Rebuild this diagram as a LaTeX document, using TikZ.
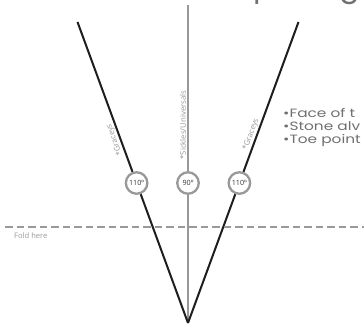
\documentclass[tikz,border=0pt]{standalone}
\usepackage{fontspec}
\setmainfont{Open Sans}
\newfontfamily\gothic[FakeStretch=1.28]{Poppins}
\newfontfamily\titlefont{Poppins}
\usetikzlibrary{calc}
\definecolor{guidegray}{HTML}{999999}
\definecolor{labelgray}{HTML}{9A9A9A}
\definecolor{bulletgray}{HTML}{707070}
\definecolor{inkblack}{HTML}{1E1E1E}
\begin{document}
\begin{tikzpicture}[x=1pt,y=-1pt,
  blackline/.style={line width=2pt, draw=inkblack},
  grayline/.style={line width=2.4pt, draw=guidegray},
  foldline/.style={line width=2.8pt, draw=guidegray, dash pattern=on 7.5pt off 4pt},
  anglebox/.style={circle, draw=guidegray, line width=2.3pt, fill=white, minimum size=21.5pt, inner sep=0pt, font=\fontsize{7.2}{8}\selectfont, text=black!80},
  toolname/.style={font=\fontsize{7.8}{8.5}\selectfont, text=labelgray, inner sep=1.8pt, anchor=south},
  bulletline/.style={font=\gothic\fontsize{12}{13}\selectfont, text=bulletgray, anchor=base west, inner sep=0pt},
  smallnote/.style={font=\fontsize{7.6}{8.5}\selectfont, text=labelgray, anchor=base west, inner sep=0pt},
]
\useasboundingbox[fill=white] (0,0) rectangle (364,326);
\coordinate (apex) at (188,323);
\coordinate (ltop) at (77.5,22);
\coordinate (rtop) at (298.5,22);
\coordinate (ctop) at (188,5);
\coordinate (foldL) at (5,227);
\coordinate (foldR) at (364,227);

\node[anglebox] (lcirc) at ($(apex)!0.4651!(ltop)$) {110º};
\node[anglebox] (ccirc) at (188,183) {90º};
\node[anglebox] (rcirc) at ($(apex)!0.4651!(rtop)$) {110º};

\draw[grayline] (ctop) -- (ccirc) -- (apex);
\draw[blackline] (ltop) -- (lcirc) -- (apex);
\draw[blackline] (rtop) -- (rcirc) -- (apex);
\draw[foldline] (foldL) -- (foldR);

\node[toolname, rotate=110.16] (lname) at ($(apex)!0.615!(ltop)$) {*Graceys};
\node[toolname, rotate=69.84] (rname) at ($(apex)!0.62!(rtop)$) {*Graceys};
\node[toolname, rotate=90] (cname) at (188,125) {*Sickles/Universals};

\node[smallnote] (fold) at (14,238) {Fold here};

\node[bulletline] (b1) at (283,118) {•Face of t};
\node[bulletline] (b2) at (283,130.5) {•Stone alv};
\node[bulletline] (b3) at (283,143) {•Toe point};

\node[font=\titlefont\fontsize{30.5}{31}\selectfont, text=bulletgray, anchor=base east, inner sep=0pt] (title) at (360,-3.8) {Sharpening};
\end{tikzpicture}
\end{document}
